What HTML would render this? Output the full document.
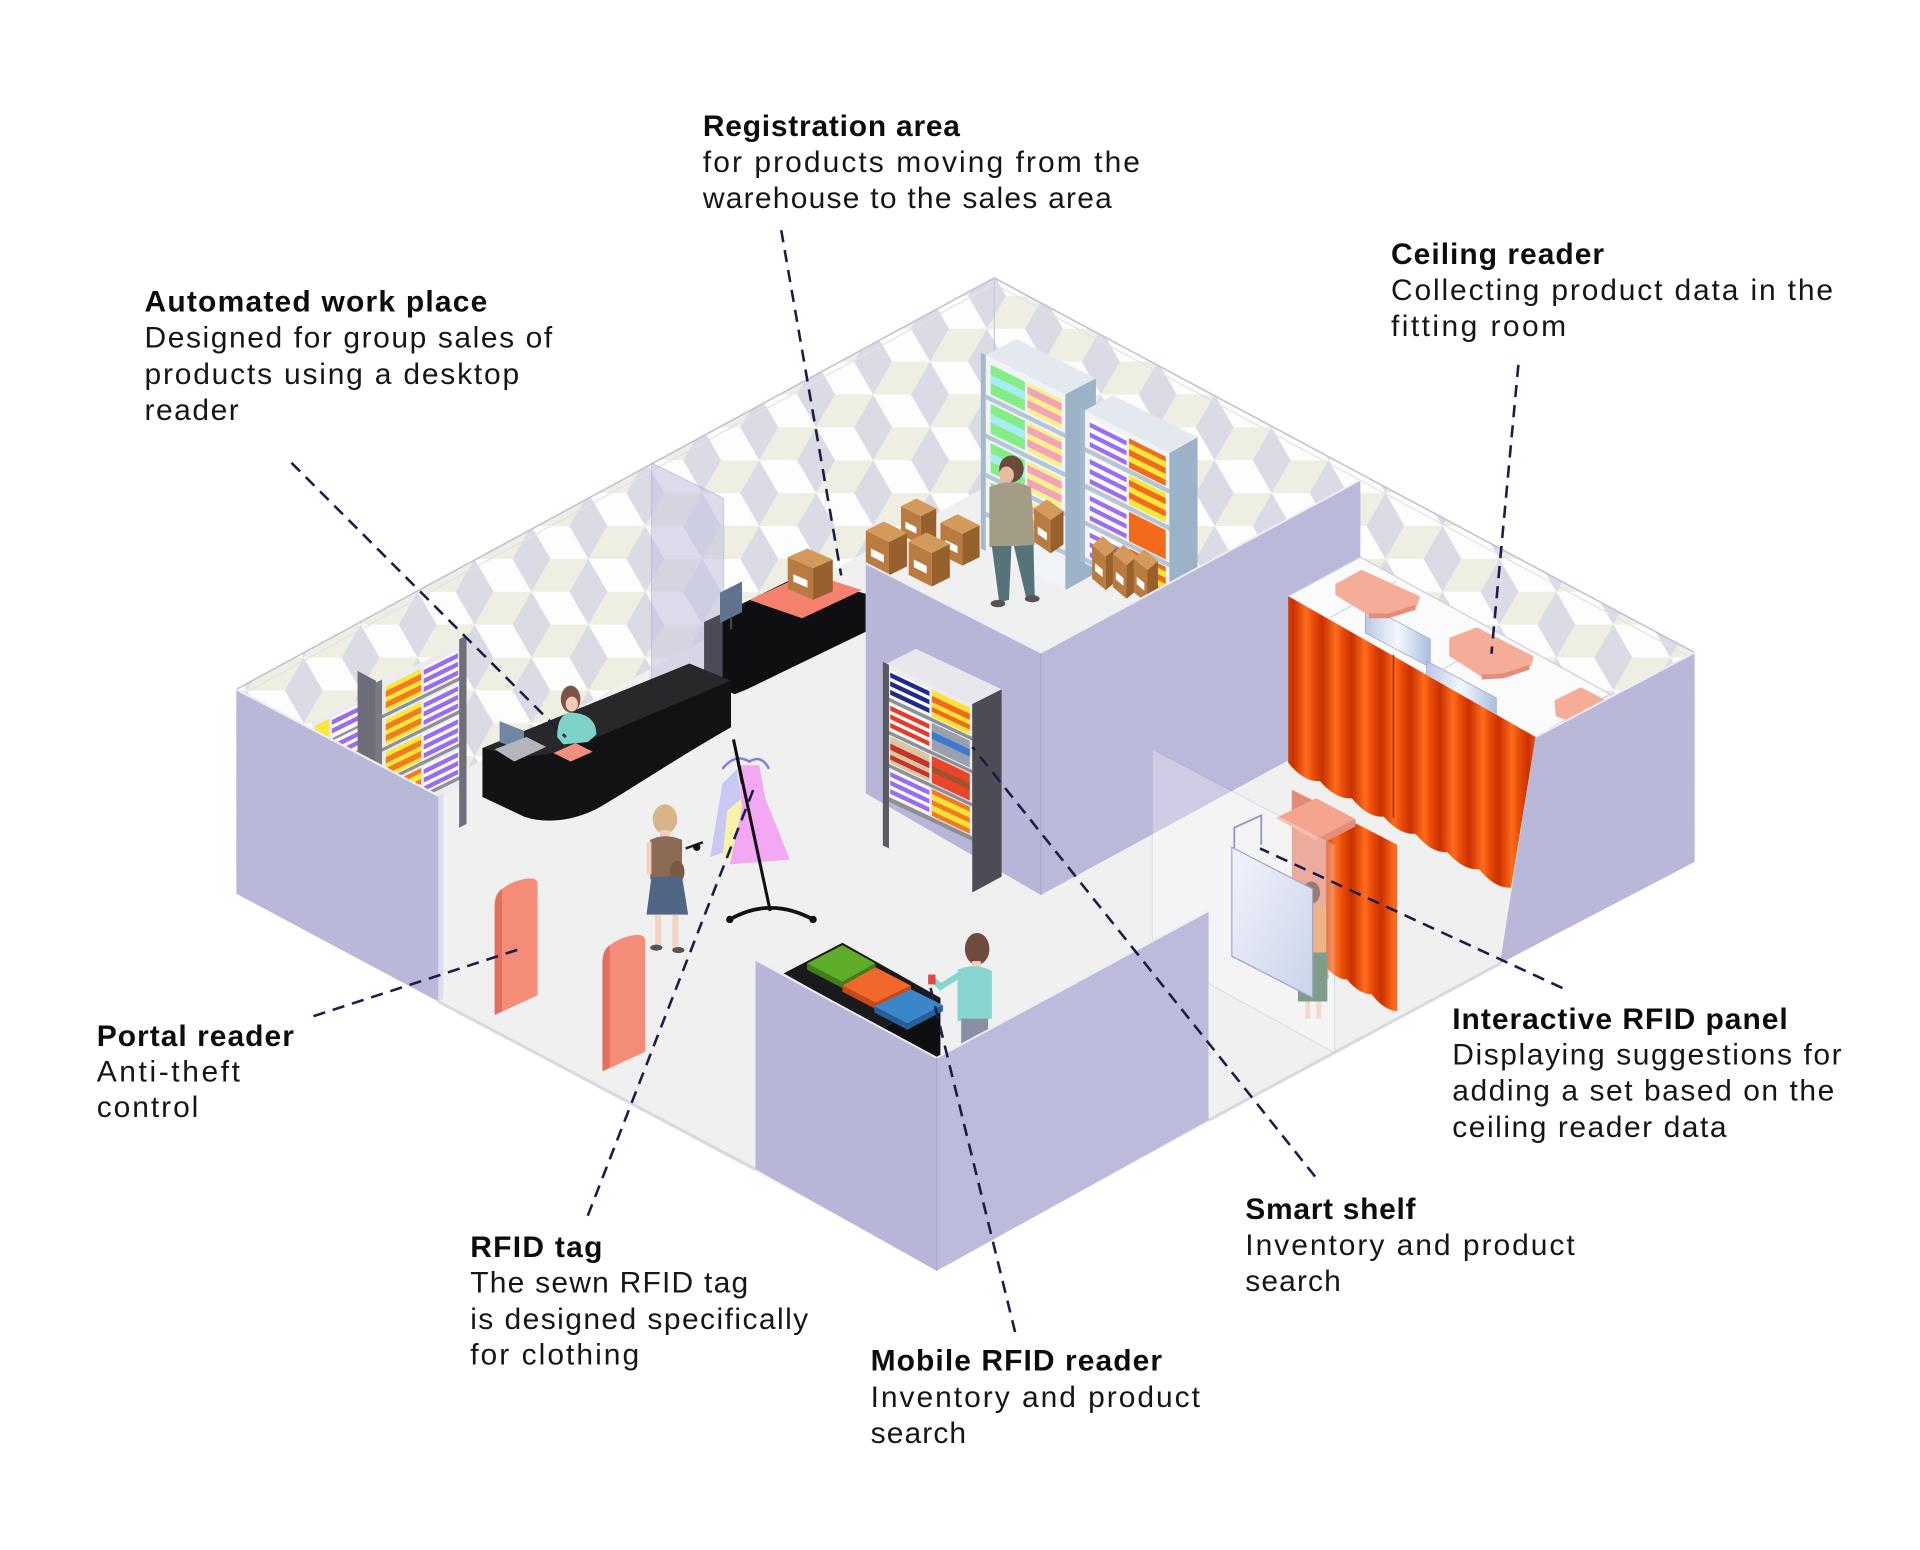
<!DOCTYPE html>
<html><head><meta charset="utf-8">
<style>
html,body{margin:0;padding:0;background:#fff;}
svg{display:block;}
.b{font-family:"Liberation Sans",Arial,sans-serif;font-weight:700;font-size:24.5px;fill:#0d0d0d;}
.r{font-family:"Liberation Sans",Arial,sans-serif;font-weight:400;font-size:24.5px;fill:#161616;}
</style></head><body>
<svg width="1920" height="1550" viewBox="0 0 1568 1266" preserveAspectRatio="none" xmlns="http://www.w3.org/2000/svg">
<defs>
<pattern id="cubes" width="93" height="53.7" patternUnits="userSpaceOnUse">
<rect width="93" height="53.7" fill="#fdfdfd"/>
<polygon points="0,0 15.5,-26.85 31,0 15.5,26.85" fill="#dadbe5"/>
<polygon points="0,53.7 15.5,26.85 31,53.7 15.5,80.55" fill="#dadbe5"/>
<polygon points="0,53.7 -31,53.7 -15.5,26.85 15.5,26.85" fill="#eeeee3"/>
<polygon points="93,53.7 62,53.7 77.5,26.85 108.5,26.85" fill="#eeeee3"/>
<polygon points="46.5,26.85 62,0 77.5,26.85 62,53.7" fill="#dadbe5"/>
<polygon points="46.5,26.85 15.5,26.85 31,0 62,0" fill="#eeeee3"/>
</pattern>
<linearGradient id="curt" x1="0" y1="0" x2="24" y2="0" gradientUnits="userSpaceOnUse" spreadMethod="repeat">
<stop offset="0" stop-color="#c93100"/><stop offset=".45" stop-color="#ff6d1c"/><stop offset=".7" stop-color="#e84a08"/><stop offset="1" stop-color="#c93100"/>
</linearGradient>
<linearGradient id="mir" x1="0" y1="0" x2="1" y2="0">
<stop offset="0" stop-color="#b9c9e6"/><stop offset=".5" stop-color="#f4f7fd"/><stop offset="1" stop-color="#a9bde0"/>
</linearGradient>
<linearGradient id="glass" x1="0" y1="0" x2="1" y2="1">
<stop offset="0" stop-color="#eef0fa"/><stop offset="1" stop-color="#b5c2e2"/>
</linearGradient>
<g id="box">
<polygon points="-18,-9 0,0 0,-26 -18,-35" fill="#b97b3f"/>
<polygon points="0,0 14,-7 14,-33 0,-26" fill="#98602d"/>
<polygon points="-18,-35 0,-26 14,-33 -4,-42" fill="#d49a5c"/>
<polygon points="-14,-21 -4,-16 -4,-10 -14,-15" fill="#ffffff"/>
</g>
</defs>

<!-- back walls -->
<polygon points="193,563 812,227 812,394 193,730" fill="url(#cubes)"/>
<polygon points="812,227 1384,533 1384,700 812,394" fill="url(#cubes)"/>
<polyline points="193,563 812,227 1384,533" fill="none" stroke="#c2c2d4" stroke-width="1.3"/>
<polyline points="198,567 812,232 1379,536" fill="none" stroke="#e2e2ea" stroke-width="1"/>
<line x1="812" y1="227" x2="812" y2="300" stroke="#c8c8d6" stroke-width="1"/>

<!-- floor -->
<polygon points="193,730 812,394 1384,700 766,1037" fill="#f0f0f1"/>
<polyline points="358,818 617,955" fill="none" stroke="#d9d9e2" stroke-width="2.5"/>
<polyline points="987,915 1225,787" fill="none" stroke="#d9d9e2" stroke-width="2.5"/>

<!-- left translucent panel -->
<polygon points="532,378 591,407 591,570 532,554" fill="#c6c6e2" opacity=".6" stroke="#a9a9c9" stroke-width=".8"/>

<!-- shelf A -->
<g transform="matrix(1,-0.492,0,1,255,590)">
<rect x="0" y="0" width="48" height="60" fill="#ececf0"/>
<rect x="2" y="4" width="12" height="16" fill="#f7e93c"/>
<rect x="16" y="4" width="30" height="16" fill="#fff"/><rect x="16" y="6" width="30" height="4" fill="#9b6cf2"/><rect x="16" y="13" width="30" height="4" fill="#9b6cf2"/>
<rect x="2" y="24" width="12" height="16" fill="#f27a1f"/>
<rect x="16" y="24" width="30" height="16" fill="#fff"/><rect x="16" y="26" width="30" height="4" fill="#9b6cf2"/><rect x="16" y="33" width="30" height="4" fill="#9b6cf2"/>
<rect x="0" y="21" width="48" height="2" fill="#8f8f98"/><rect x="0" y="41" width="48" height="2" fill="#8f8f98"/>
</g>
<polygon points="292,548 307,556 307,640 292,632" fill="#6e6e78"/>
<!-- shelf B -->
<g transform="matrix(1,-0.492,0,1,312,557)">
<rect x="0" y="0" width="65" height="118" fill="#ececf0"/>
<rect x="3" y="5" width="29" height="21" fill="#f7e93c"/><rect x="3" y="9" width="29" height="5" fill="#f27a1f"/><rect x="3" y="18" width="29" height="5" fill="#f27a1f"/>
<rect x="34" y="5" width="28" height="21" fill="#fff"/><rect x="34" y="7" width="28" height="4" fill="#9b6cf2"/><rect x="34" y="14" width="28" height="4" fill="#9b6cf2"/><rect x="34" y="21" width="28" height="4" fill="#9b6cf2"/>
<rect x="3" y="32" width="29" height="21" fill="#f7e93c"/><rect x="3" y="36" width="29" height="5" fill="#f27a1f"/><rect x="3" y="45" width="29" height="5" fill="#f27a1f"/>
<rect x="34" y="32" width="28" height="21" fill="#fff"/><rect x="34" y="34" width="28" height="4" fill="#9b6cf2"/><rect x="34" y="41" width="28" height="4" fill="#9b6cf2"/><rect x="34" y="48" width="28" height="4" fill="#9b6cf2"/>
<rect x="3" y="59" width="29" height="21" fill="#f7e93c"/><rect x="3" y="63" width="29" height="5" fill="#f27a1f"/><rect x="3" y="72" width="29" height="5" fill="#f27a1f"/>
<rect x="34" y="59" width="28" height="21" fill="#fff"/><rect x="34" y="61" width="28" height="4" fill="#9b6cf2"/><rect x="34" y="68" width="28" height="4" fill="#9b6cf2"/><rect x="34" y="75" width="28" height="4" fill="#9b6cf2"/>
<rect x="3" y="86" width="29" height="21" fill="#f27a1f"/><rect x="3" y="90" width="29" height="5" fill="#f7e93c"/><rect x="3" y="99" width="29" height="5" fill="#f7e93c"/>
<rect x="34" y="86" width="28" height="21" fill="#fff"/><rect x="34" y="88" width="28" height="4" fill="#9b6cf2"/><rect x="34" y="95" width="28" height="4" fill="#9b6cf2"/><rect x="34" y="102" width="28" height="4" fill="#9b6cf2"/>
<rect x="0" y="27" width="65" height="3" fill="#8f8f98"/><rect x="0" y="54" width="65" height="3" fill="#8f8f98"/><rect x="0" y="81" width="65" height="3" fill="#8f8f98"/><rect x="0" y="108" width="65" height="3" fill="#8f8f98"/>
<rect x="-5" y="-2" width="5" height="120" fill="#7a7a84"/>
<rect x="63" y="-4" width="6" height="154" fill="#6f6f79"/>
</g>

<!-- registration desk -->
<polygon points="575,508 590,501 590,562 575,555" fill="#4b4b58"/>
<polygon points="590,501 653,470 707,485 707,516 645,546 610,563 600,567 590,562" fill="#0f0f12"/>
<polygon points="612,490 660,468 704,482 655,505" fill="#f4826e"/>
<polygon points="588,484 606,475 606,500 588,509" fill="#5f7290"/>
<line x1="597" y1="505" x2="597" y2="514" stroke="#444" stroke-width="2"/>
<use href="#box" transform="translate(664,490) scale(1.15,1)"/>

<!-- counter -->
<path d="M394,611 L563,542 L597,556 L597,594 C560,615 522,640 492,658 C470,671 445,673 428,667 L394,651 Z" fill="#121214"/>
<path d="M394,611 L563,542 L597,556 L478,606 C455,616 432,620 414,616 Z" fill="#28282b"/>
<polygon points="408,589 428,597 428,614 408,606" fill="#6f86a4"/>
<polygon points="404,612 430,602 446,610 420,622" fill="#b5b5bd"/>
<polygon points="452,615 470,607 484,614 466,622" fill="#f0907c"/>
<ellipse cx="466" cy="571" rx="8" ry="11" fill="#7d5445"/>
<ellipse cx="467" cy="575" rx="5" ry="6" fill="#f3cbb8"/>
<path d="M455,602 Q455,583 466,582 Q487,583 487,600 L480,606 L460,608 Z" fill="#7fd2c8"/>

<!-- warehouse contents -->
<g transform="matrix(1,0.49,0,1,805,290)">
<rect x="0" y="0" width="65" height="160" fill="#f0f3f7"/>
<rect x="4" y="6" width="28" height="24" fill="#84ee84"/><rect x="4" y="14" width="28" height="7" fill="#a6ecf4"/>
<rect x="34" y="6" width="28" height="24" fill="#f6f28a"/><rect x="34" y="9" width="28" height="6" fill="#f4a2bc"/><rect x="34" y="20" width="28" height="6" fill="#f4a2bc"/>
<rect x="4" y="38" width="28" height="24" fill="#84ee84"/><rect x="4" y="46" width="28" height="7" fill="#a6ecf4"/>
<rect x="34" y="38" width="28" height="24" fill="#f6f28a"/><rect x="34" y="41" width="28" height="6" fill="#f4a2bc"/><rect x="34" y="52" width="28" height="6" fill="#f4a2bc"/>
<rect x="4" y="70" width="28" height="24" fill="#84ee84"/><rect x="4" y="78" width="28" height="7" fill="#a6ecf4"/>
<rect x="34" y="70" width="28" height="24" fill="#f6f28a"/><rect x="34" y="73" width="28" height="6" fill="#f4a2bc"/><rect x="34" y="84" width="28" height="6" fill="#f4a2bc"/>
<rect x="4" y="102" width="28" height="24" fill="#84ee84"/><rect x="4" y="110" width="28" height="7" fill="#a6ecf4"/>
<rect x="34" y="102" width="28" height="24" fill="#f6f28a"/><rect x="34" y="105" width="28" height="6" fill="#f4a2bc"/><rect x="34" y="116" width="28" height="6" fill="#f4a2bc"/>
<rect x="0" y="32" width="65" height="4" fill="#b5c6d6"/><rect x="0" y="64" width="65" height="4" fill="#b5c6d6"/><rect x="0" y="96" width="65" height="4" fill="#b5c6d6"/><rect x="0" y="128" width="65" height="4" fill="#b5c6d6"/>
<rect x="-4" y="0" width="4" height="160" fill="#a5b9cc"/>
</g>
<polygon points="870,322 895,309 895,468 870,482" fill="#9cb2c8"/>
<polygon points="805,290 830,277 895,309 870,322" fill="#e3e9ef"/>
<g transform="matrix(1,0.5,0,1,886,335)">
<rect x="0" y="0" width="69" height="125" fill="#f0f3f7"/>
<rect x="4" y="5" width="30" height="24" fill="#fff"/><rect x="4" y="8" width="30" height="4" fill="#9c6cf2"/><rect x="4" y="16" width="30" height="4" fill="#9c6cf2"/><rect x="4" y="24" width="30" height="4" fill="#9c6cf2"/>
<rect x="36" y="5" width="30" height="24" fill="#f26a1c"/><rect x="36" y="9" width="30" height="5" fill="#f8e83c"/><rect x="36" y="19" width="30" height="5" fill="#f8e83c"/>
<rect x="4" y="35" width="30" height="24" fill="#fff"/><rect x="4" y="38" width="30" height="4" fill="#9c6cf2"/><rect x="4" y="46" width="30" height="4" fill="#9c6cf2"/><rect x="4" y="54" width="30" height="4" fill="#9c6cf2"/>
<rect x="36" y="35" width="30" height="24" fill="#f8e83c"/><rect x="36" y="39" width="30" height="5" fill="#f26a1c"/><rect x="36" y="49" width="30" height="5" fill="#f26a1c"/>
<rect x="4" y="65" width="30" height="24" fill="#fff"/><rect x="4" y="68" width="30" height="4" fill="#9c6cf2"/><rect x="4" y="76" width="30" height="4" fill="#9c6cf2"/><rect x="4" y="84" width="30" height="4" fill="#9c6cf2"/>
<rect x="36" y="65" width="30" height="24" fill="#f26a1c"/>
<rect x="4" y="95" width="30" height="24" fill="#fff"/><rect x="4" y="98" width="30" height="4" fill="#9c6cf2"/><rect x="4" y="106" width="30" height="4" fill="#9c6cf2"/><rect x="4" y="114" width="30" height="4" fill="#9c6cf2"/>
<rect x="36" y="95" width="30" height="24" fill="#f26a1c"/><rect x="36" y="99" width="30" height="5" fill="#f8e83c"/><rect x="36" y="109" width="30" height="5" fill="#f8e83c"/>
<rect x="0" y="30" width="69" height="4" fill="#b5c6d6"/><rect x="0" y="60" width="69" height="4" fill="#b5c6d6"/><rect x="0" y="90" width="69" height="4" fill="#b5c6d6"/><rect x="0" y="120" width="69" height="4" fill="#b5c6d6"/>
<rect x="-4" y="0" width="4" height="125" fill="#a5b9cc"/>
</g>
<polygon points="955,370 978,357 978,478 955,490" fill="#9cb2c8"/>
<polygon points="886,335 909,323 978,357 955,370" fill="#e3e9ef"/>
<use href="#box" transform="translate(903,482) scale(0.62,1.05)"/>
<use href="#box" transform="translate(920,489) scale(0.62,1.05)"/>
<use href="#box" transform="translate(937,493) scale(0.62,1.05)"/>
<use href="#box" transform="translate(752,445) scale(0.9)"/>
<use href="#box" transform="translate(726,470) scale(1.05)"/>
<use href="#box" transform="translate(786,462) scale(1.0)"/>
<use href="#box" transform="translate(761,479) scale(1.05)"/>
<use href="#box" transform="translate(858,452) scale(0.75,1.05)"/>
<!-- man -->
<ellipse cx="826" cy="383" rx="10" ry="11" fill="#6a4a3a"/>
<ellipse cx="822" cy="388" rx="6" ry="7" fill="#e9b9a0"/>
<path d="M808,398 Q825,390 842,398 L845,445 L808,447 Z" fill="#a39d88"/>
<polygon points="810,446 826,446 824,490 816,492" fill="#56737a"/>
<polygon points="828,446 844,445 845,486 838,488" fill="#56737a"/>
<ellipse cx="815" cy="493" rx="6" ry="3" fill="#555"/>
<ellipse cx="843" cy="489" rx="6" ry="3" fill="#555"/>

<!-- warehouse walls -->
<polygon points="707,460 850,533 850,731 707,648" fill="#b7b6d8"/>
<polygon points="850,533 1111,392 1111,589 850,731" fill="#bab9da"/>
<line x1="850" y1="533" x2="850" y2="731" stroke="#a8a7cb" stroke-width="1"/>
<polyline points="707,460 850,533 1111,392" fill="none" stroke="#ececf4" stroke-width="1.6"/>

<!-- middle shelf -->
<g transform="matrix(1,0.47,0,1,724,542)">
<rect x="0" y="0" width="70" height="112" fill="#ececf0"/>
<rect x="3" y="4" width="32" height="22" fill="#fff"/><rect x="3" y="6" width="32" height="4" fill="#1f2a8a"/><rect x="3" y="13" width="32" height="4" fill="#1f2a8a"/><rect x="3" y="20" width="32" height="4" fill="#1f2a8a"/>
<rect x="37" y="4" width="31" height="22" fill="#f8e23a"/><rect x="37" y="9" width="31" height="5" fill="#f06a1e"/><rect x="37" y="18" width="31" height="4" fill="#f06a1e"/>
<rect x="3" y="31" width="32" height="22" fill="#fff"/><rect x="3" y="33" width="32" height="4" fill="#e83a2a"/><rect x="3" y="40" width="32" height="4" fill="#e83a2a"/><rect x="3" y="47" width="32" height="4" fill="#e83a2a"/>
<rect x="37" y="31" width="31" height="22" fill="#9aa0b0"/><rect x="37" y="38" width="31" height="6" fill="#3a7ad0"/>
<rect x="3" y="58" width="32" height="22" fill="#d9c7a0"/><rect x="3" y="64" width="32" height="5" fill="#c8322a"/><rect x="3" y="73" width="32" height="4" fill="#c8322a"/>
<rect x="37" y="58" width="31" height="22" fill="#e9452a"/><rect x="37" y="66" width="31" height="5" fill="#a0522d"/>
<rect x="3" y="85" width="32" height="22" fill="#fff"/><rect x="3" y="87" width="32" height="4" fill="#9a6cf0"/><rect x="3" y="94" width="32" height="4" fill="#9a6cf0"/><rect x="3" y="101" width="32" height="4" fill="#9a6cf0"/>
<rect x="37" y="85" width="31" height="22" fill="#f07a1e"/><rect x="37" y="89" width="31" height="5" fill="#f8e23a"/><rect x="37" y="98" width="31" height="5" fill="#f8e23a"/>
<rect x="0" y="27" width="70" height="3" fill="#8e8e96"/><rect x="0" y="54" width="70" height="3" fill="#8e8e96"/><rect x="0" y="81" width="70" height="3" fill="#8e8e96"/><rect x="0" y="108" width="70" height="4" fill="#8e8e96"/>
<rect x="-3" y="0" width="5" height="150" fill="#5a5a62"/>
</g>
<polygon points="794,575 818,563 818,716 794,729" fill="#4c4c54"/>
<polygon points="724,542 748,530 818,563 794,575" fill="#e8e8ec"/>

<!-- fitting rooms -->
<polygon points="1052,487 1111,455 1315,567 1254,602" fill="#fbfbfd" stroke="#d0d0dc" stroke-width="1"/>
<polygon points="1115,494 1168,522 1168,545 1115,517" fill="url(#mir)" stroke="#9aa6c4" stroke-width=".6"/>
<polygon points="1165,540 1222,570 1222,592 1165,562" fill="url(#mir)" stroke="#9aa6c4" stroke-width=".6"/>
<line x1="1140" y1="475" x2="1085" y2="505" stroke="#d6d6e2" stroke-width="1"/>
<line x1="1225" y1="521" x2="1170" y2="551" stroke="#d6d6e2" stroke-width="1"/>
<path d="M1052,487 L1254,602 L1234,725 Q1221,726 1208,710 Q1195,711 1182,696 Q1169,697 1156,681 Q1143,682 1130,667 Q1117,668 1104,652 Q1091,653 1078,638 Q1065,639 1052,623 Z" fill="url(#curt)"/>
<line x1="1138" y1="535" x2="1138" y2="668" stroke="#a82800" stroke-width="1.2"/>
<path d="M1092,478 L1112,467 L1158,488 L1156,494 L1134,501 L1118,501 L1092,485 Z" fill="#f6ad98" stroke="#f6ad98" stroke-width="3" stroke-linejoin="round"/>
<path d="M1118,501 L1134,501 L1156,494 L1156,498 L1134,505 L1118,505 Z" fill="#e48d7a"/>
<path d="M1185,522 L1206,514 L1251,537 L1249,543 L1228,550 L1210,551 L1185,535 Z" fill="#f6ad98" stroke="#f6ad98" stroke-width="3" stroke-linejoin="round"/>
<path d="M1210,551 L1228,550 L1249,543 L1249,547 L1228,554 L1210,555 Z" fill="#e48d7a"/>
<path d="M1271,573 L1291,563 L1310,573 L1305,584 L1286,589 L1272,584 Z" fill="#f6ad98" stroke="#f6ad98" stroke-width="3" stroke-linejoin="round"/>
<polygon points="1254,602 1384,533 1384,704 1225,787" fill="#b9b8d9"/>
<line x1="1254" y1="602" x2="1384" y2="533" stroke="#ececf4" stroke-width="1.5"/>

<!-- small booth -->
<polygon points="1055,645 1085,660 1085,800 1055,785" fill="#e48c78"/>
<path d="M1083,660 L1141,690 L1141,826 Q1130,825 1120,812 Q1110,812 1100,800 Q1092,800 1083,790 Z" fill="url(#curt)"/>
<polygon points="1042,668 1075,652 1107,669 1074,686" fill="#f5a48e"/>
<polygon points="1074,686 1107,669 1107,675 1074,692" fill="#e48d7a"/>
<polyline points="1008,700 1008,676 1030,666 1030,690" fill="none" stroke="#6a6fb0" stroke-width="1.5"/>
<ellipse cx="1071" cy="729" rx="7" ry="9" fill="#6b4a3a"/>
<rect x="1062" y="738" width="21" height="42" rx="4" fill="#e8975a"/>
<rect x="1060" y="778" width="24" height="40" fill="#4b7a5c"/>
<rect x="1066" y="818" width="4" height="14" fill="#f0cbb8"/><rect x="1075" y="818" width="4" height="14" fill="#f0cbb8"/>
<polygon points="1006,692 1072,726 1072,815 1006,781" fill="url(#glass)" stroke="#7c82b5" stroke-width="1"/>
<polygon points="941,612 1090,690 1090,860 941,778" fill="#ffffff" opacity=".28" stroke="#a8a8c8" stroke-width=".8"/>

<!-- portal readers -->
<path d="M404,740 Q404,726 421,720 Q439,714 439,722 L439,813 L404,829 Z" fill="#f48c78"/>
<path d="M404,740 Q404,730 410,726 L410,826 L404,829 Z" fill="#e2705e"/>
<path d="M492,786 Q492,772 509,766 Q527,760 527,769 L527,859 L492,875 Z" fill="#f48c78"/>
<path d="M492,786 Q492,776 498,772 L498,872 L492,875 Z" fill="#e2705e"/>

<!-- rack & dresses -->
<polygon points="590,640 602,628 610,690 580,700" fill="#c9c7f3"/>
<polygon points="594,662 608,650 612,702 590,700" fill="#f6f3a8"/>
<polygon points="603,625 620,625 625,652 645,702 596,706 606,660" fill="#f3a8f3"/>
<path d="M590,628 Q600,615 612,622 Q622,616 628,628" fill="none" stroke="#8c7ad8" stroke-width="2"/>
<line x1="599" y1="604" x2="629" y2="744" stroke="#111" stroke-width="2.5"/>
<line x1="599" y1="604" x2="606" y2="640" stroke="#111" stroke-width="2"/>
<path d="M596,751 Q629,732 664,751" fill="none" stroke="#111" stroke-width="3"/>
<circle cx="596" cy="751" r="3" fill="#111"/><circle cx="664" cy="751" r="3" fill="#111"/>

<!-- customer -->
<ellipse cx="543" cy="669" rx="10" ry="12" fill="#d8b48a"/>
<rect x="539" y="678" width="8" height="6" fill="#f3cdbd"/>
<path d="M531,686 Q543,680 557,686 L557,718 L531,718 Z" fill="#8b6b55"/>
<rect x="528" y="688" width="4" height="26" fill="#f3cdbd"/>
<ellipse cx="553" cy="712" rx="6" ry="9" fill="#7a5a40"/>
<path d="M532,716 L557,716 L562,747 L528,747 Z" fill="#4f6785"/>
<rect x="535" y="747" width="5" height="26" fill="#f3d3c3"/><rect x="549" y="747" width="5" height="28" fill="#f3d3c3"/>
<ellipse cx="536" cy="774" rx="5" ry="2.5" fill="#555"/><ellipse cx="554" cy="776" rx="5" ry="2.5" fill="#555"/>
<line x1="560" y1="693" x2="574" y2="688" stroke="#222" stroke-width="2"/><circle cx="569" cy="692" r="3" fill="#111"/>

<!-- mobile table -->
<polygon points="640,795 688,770 768,815 720,840" fill="#1a1a1c"/>
<polygon points="720,840 768,815 768,868 720,893" fill="#0f0f10"/>
<polygon points="688,772 715,787 688,802 659,787" fill="#5fac2a"/>
<polygon points="688,802 715,787 715,792 688,807 659,792 659,787" fill="#3f7e18"/>
<polygon points="715,790 744,805 715,819 688,805" fill="#f2672c"/>
<polygon points="715,819 744,805 744,810 715,824 688,810 688,805" fill="#c64a18"/>
<polygon points="744,808 770,821 741,836 714,822" fill="#3b86c8"/>
<polygon points="741,836 770,821 770,826 741,841 714,827 714,822" fill="#25609a"/>
<!-- mobile woman -->
<ellipse cx="798" cy="775" rx="10" ry="13" fill="#6e4b3c"/>
<rect x="794" y="785" width="7" height="6" fill="#f3cdbd"/>
<path d="M782,792 Q796,786 810,793 L810,832 L782,834 Z" fill="#86d6cf"/>
<path d="M784,796 L768,806 L764,802" fill="none" stroke="#86d6cf" stroke-width="5" stroke-linecap="round"/>
<rect x="758" y="796" width="6" height="8" fill="#e2463c"/>
<rect x="785" y="832" width="22" height="28" fill="#8a90a3"/>

<!-- front walls -->
<polygon points="617,784 765,864 765,1038 617,955" fill="#b7b6d8"/>
<polygon points="765,864 987,744 987,915 765,1038" fill="#bcbbdb"/>
<polyline points="617,784 765,864 987,744" fill="none" stroke="#ececf4" stroke-width="1.6"/>
<line x1="765" y1="864" x2="765" y2="1038" stroke="#a8a7cb" stroke-width="1"/>

<!-- left lavender wall -->
<polygon points="193,563 358,650 358,818 193,730" fill="#b9b8d9"/>
<polygon points="358,650 362,648 362,816 358,818" fill="#dcdcec"/>
<polyline points="193,563 358,650" fill="none" stroke="#ececf4" stroke-width="1.8"/>

<!-- dashed connectors -->
<g stroke="#1c1c4a" stroke-width="2.1" stroke-dasharray="10 6.5" fill="none">
<line x1="638" y1="188" x2="687" y2="470"/>
<line x1="238" y1="378" x2="462" y2="602"/>
<line x1="1240" y1="298" x2="1218" y2="534"/>
<line x1="256" y1="830" x2="428" y2="774"/>
<line x1="480" y1="993" x2="616" y2="643"/>
<line x1="829" y1="1088" x2="760" y2="807"/>
<line x1="1074" y1="961" x2="794" y2="610"/>
<line x1="1276" y1="807" x2="1029" y2="693"/>
</g>

<!-- labels -->
<text class="b" x="574" y="111" textLength="210" lengthAdjust="spacing">Registration area</text>
<text class="r" x="574" y="140.5" textLength="357" lengthAdjust="spacing">for products moving from the</text>
<text class="r" x="574" y="170" textLength="334" lengthAdjust="spacing">warehouse to the sales area</text>

<text class="b" x="118" y="254.5" textLength="280" lengthAdjust="spacing">Automated work place</text>
<text class="r" x="118" y="284" textLength="333" lengthAdjust="spacing">Designed for group sales of</text>
<text class="r" x="118" y="313.5" textLength="306" lengthAdjust="spacing">products using a desktop</text>
<text class="r" x="118" y="343" textLength="77" lengthAdjust="spacing">reader</text>

<text class="b" x="1136" y="215.5" textLength="174" lengthAdjust="spacing">Ceiling reader</text>
<text class="r" x="1136" y="245" textLength="361" lengthAdjust="spacing">Collecting product data in the</text>
<text class="r" x="1136" y="274.5" textLength="143" lengthAdjust="spacing">fitting room</text>

<text class="b" x="79" y="854.5" textLength="161" lengthAdjust="spacing">Portal reader</text>
<text class="r" x="79" y="883.5" textLength="117" lengthAdjust="spacing">Anti-theft</text>
<text class="r" x="79" y="912.5" textLength="83" lengthAdjust="spacing">control</text>

<text class="b" x="384" y="1026.5" textLength="108" lengthAdjust="spacing">RFID tag</text>
<text class="r" x="384" y="1055.5" textLength="227" lengthAdjust="spacing">The sewn RFID tag</text>
<text class="r" x="384" y="1085.5" textLength="276" lengthAdjust="spacing">is designed specifically</text>
<text class="r" x="384" y="1114.5" textLength="138" lengthAdjust="spacing">for clothing</text>

<text class="b" x="711" y="1119.5" textLength="238" lengthAdjust="spacing">Mobile RFID reader</text>
<text class="r" x="711" y="1149" textLength="269" lengthAdjust="spacing">Inventory and product</text>
<text class="r" x="711" y="1178.5" textLength="78" lengthAdjust="spacing">search</text>

<text class="b" x="1017" y="995.5" textLength="139" lengthAdjust="spacing">Smart shelf</text>
<text class="r" x="1017" y="1025" textLength="269" lengthAdjust="spacing">Inventory and product</text>
<text class="r" x="1017" y="1054.5" textLength="78" lengthAdjust="spacing">search</text>

<text class="b" x="1186" y="840.5" textLength="274" lengthAdjust="spacing">Interactive RFID panel</text>
<text class="r" x="1186" y="869.5" textLength="318" lengthAdjust="spacing">Displaying suggestions for</text>
<text class="r" x="1186" y="899" textLength="312" lengthAdjust="spacing">adding a set based on the</text>
<text class="r" x="1186" y="928.5" textLength="224" lengthAdjust="spacing">ceiling reader data</text>
</svg>
</body></html>
